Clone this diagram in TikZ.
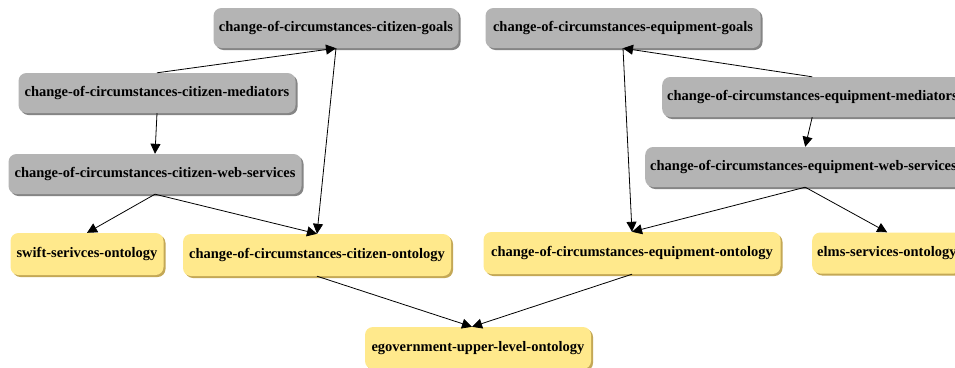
\documentclass[tikz,border=0pt]{standalone}
\usepackage{fontspec}
\setmainfont{Liberation Serif}
\usetikzlibrary{arrows.meta,shadows}
\definecolor{gfill}{HTML}{B4B4B4}
\definecolor{gshadow}{HTML}{858585}
\definecolor{yfill}{HTML}{FFE98C}
\definecolor{yshadow}{HTML}{C4A856}
\tikzset{
  box/.style={rectangle, rounded corners=8pt, inner sep=0pt, minimum height=40pt,
    font=\bfseries\fontsize{14.5}{16}\selectfont, text=black},
  graybox/.style={box, fill=gfill, drop shadow={shadow xshift=2pt, shadow yshift=-2pt, fill=gshadow, opacity=1}},
  yellowbox/.style={box, fill=yfill, drop shadow={shadow xshift=2pt, shadow yshift=-2pt, fill=yshadow, opacity=1}},
  cutbox/.style={anchor=west, align=left, inner xsep=5pt},
  link/.style={draw=black, line width=0.8pt, -{Triangle[length=10pt,width=10pt]}}
}
\begin{document}
\begin{tikzpicture}[x=1pt,y=-1pt]
\useasboundingbox (0,0) rectangle (955,367);
\fill[white] (0,0) rectangle (955,367);
\clip (0,0) rectangle (955,367);
% citizen side
\node[graybox, minimum width=245pt] (g1) at (336,28) {change-of-circumstances-citizen-goals};
\node[graybox, minimum width=277pt] (m1) at (157,93) {change-of-circumstances-citizen-mediators};
\node[graybox, minimum width=293pt] (w1) at (155,174) {change-of-circumstances-citizen-web-services};
\node[yellowbox, minimum width=153pt, minimum height=42pt] (s1) at (87,254) {swift-serivces-ontology};
\node[yellowbox, minimum width=268pt, minimum height=42pt] (o1) at (317,255) {change-of-circumstances-citizen-ontology};
\node[yellowbox, minimum width=226pt, minimum height=42pt] (e) at (478,348) {egovernment-upper-level-ontology};
% equipment side
\node[graybox, minimum width=275pt] (g2) at (623,28) {change-of-circumstances-equipment-goals};
\node[graybox, cutbox, text width=290pt] (m2) at (662,97) {\mbox{change-of-circumstances-equipment-mediators}};
\node[graybox, cutbox, text width=310pt] (w2) at (645,167) {\mbox{change-of-circumstances-equipment-web-services}};
\node[yellowbox, minimum width=297pt, minimum height=42pt] (o2) at (632,253) {change-of-circumstances-equipment-ontology};
\node[yellowbox, cutbox, text width=140pt, minimum height=41pt] (l) at (812,253) {\mbox{elms-services-ontology}};
% connectors
\draw[link] (m1.north) -- (g1.south);
\draw[link] (g1.south) -- (o1.north);
\draw[link] (m1.south) -- (w1.north);
\draw[link] (w1.south) -- (s1.north);
\draw[link] (w1.south) -- (o1.north);
\draw[link] (o1.south) -- ([xshift=-6pt]e.north);
\draw[link] (m2.north) -- (g2.south);
\draw[link] (g2.south) -- (o2.north);
\draw[link] (m2.south) -- (w2.north);
\draw[link] (w2.south) -- (o2.north);
\draw[link] (w2.south) -- (l.north);
\draw[link] (o2.south) -- ([xshift=-6pt]e.north);
\end{tikzpicture}
\end{document}
